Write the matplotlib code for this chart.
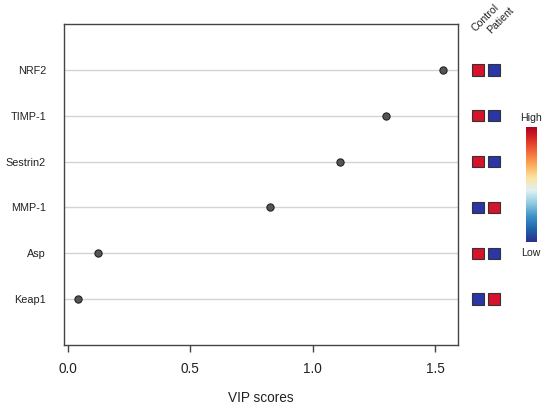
import matplotlib
matplotlib.use("Agg")
import matplotlib.pyplot as plt
import numpy as np
from matplotlib.colors import LinearSegmentedColormap
from matplotlib.patches import Rectangle

features = ["Keap1", "Asp", "MMP-1", "Sestrin2", "TIMP-1", "NRF2"]
vip = [0.044, 0.122, 0.826, 1.111, 1.300, 1.532]
groups = ["Control", "Patient"]
control_high = [0, 1, 0, 1, 1, 1]
patient_high = [1, 0, 1, 0, 0, 0]
xticks = [0.0, 0.5, 1.0, 1.5]
xtick_labels = ["0.0", "0.5", "1.0", "1.5"]

plt.rcParams['font.family'] = ['Liberation Sans', 'DejaVu Sans']

W, H = 550, 407
fig = plt.figure(figsize=(W / 100, H / 100), dpi=100)

def fx(px):
    return px / W

def fy(py):
    return 1 - py / H

# main axes
ax = fig.add_axes([fx(64), fy(345), (458 - 64) / W, (345 - 24) / H])
ypos = np.arange(1, len(features) + 1)
for y in ypos:
    ax.axhline(y, color="#d4d4d4", lw=1.0, zorder=1)
ax.plot(vip, ypos, 'o', ms=5.2, mfc="#555555", mec="#222222", mew=0.8, zorder=3, ls='none')
ax.set_xlim(-0.015, 1.593)
ax.set_ylim(0, 7)
ax.set_yticks(ypos)
ax.set_yticklabels(features, fontsize=7.8, color="#222222")
ax.tick_params(axis='y', length=0, pad=13)
ax.set_xticks(xticks)
ax.set_xticklabels(xtick_labels, fontsize=9.8, color="#222222")
ax.tick_params(axis='x', length=5, width=1, color="#444444", pad=7)
for s in ax.spines.values():
    s.set_color("#444444")
    s.set_linewidth(1.0)
ax.set_xlabel("VIP scores", fontsize=9.8, color="#222222", labelpad=11)

# heatmap axes
hax = fig.add_axes([fx(470), fy(345), 32 / W, (345 - 24) / H])
hax.set_xlim(0, 2)
hax.set_ylim(0, 7)
hax.axis('off')
red, blue = "#d6132a", "#2b36a6"
for i, y in enumerate(ypos):
    for j, lvl in enumerate([control_high[i], patient_high[i]]):
        hax.add_patch(Rectangle((j + 0.1, y - 0.125), 0.8, 0.25,
                                facecolor=red if lvl else blue,
                                edgecolor="#333333", lw=0.8, zorder=2))

# column labels
fig.text(fx(477), fy(33), groups[0], rotation=45, rotation_mode='anchor',
         ha='left', va='bottom', fontsize=7.6, color="#222222")
fig.text(fx(493), fy(35), groups[1], rotation=45, rotation_mode='anchor',
         ha='left', va='bottom', fontsize=7.6, color="#222222")

# colour bar
cmap = LinearSegmentedColormap.from_list("vip", [
    '#2e2f8f', '#1f64aa', '#3d94c8', '#8fcbe2', '#dff1f3',
    '#fde3a0', '#fbab58', '#f46a3a', '#dc2a26', '#a8001f'])
cax = fig.add_axes([fx(526), fy(242), 10.7 / W, (242 - 126.7) / H])
grad = np.linspace(0, 1, 256).reshape(-1, 1)
cax.imshow(grad, aspect='auto', cmap=cmap, origin='lower')
cax.axis('off')
fig.text(fx(531), fy(118), "High", ha='center', va='center', fontsize=7.6, color="#222222")
fig.text(fx(531), fy(253), "Low", ha='center', va='center', fontsize=7.6, color="#222222")

fig.savefig("out.png", dpi=100)
